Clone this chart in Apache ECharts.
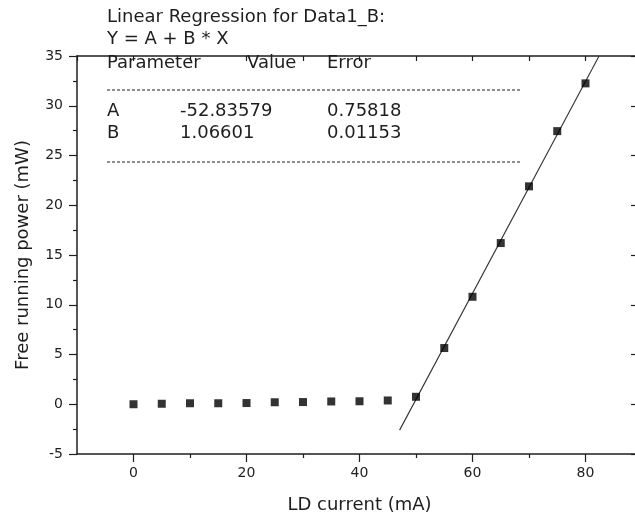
<!DOCTYPE html>
<html>
<head>
<meta charset="utf-8">
<script src="https://cdn.jsdelivr.net/npm/echarts@6/dist/echarts.min.js"></script>
<style>
  html, body { margin: 0; padding: 0; background: #fff; }
  #chart { width: 635px; height: 518px; }
</style>
</head>
<body>
<div id="chart"></div>
<script>
// ── data ──
var currents = [0, 5, 10, 15, 20, 25, 30, 35, 40, 45, 50, 55, 60, 65, 70, 75, 80];
var powers = [0.0, 0.05, 0.1, 0.1, 0.12, 0.2, 0.22, 0.28, 0.3, 0.38, 0.75, 5.65, 10.8, 16.2, 21.9, 27.45, 32.25];

// fitted line Y = A + B * X, end points as drawn
var fitLine = [[47.1, -2.6], [82.4, 35]];

// regression table
var paramNames = ["A", "B"];
var paramValues = ["-52.83579", "1.06601"];
var paramErrors = ["0.75818", "0.01153"];

var xMajorTicks = [0, 20, 40, 60, 80];
var xMinorTicks = [10, 30, 50, 70];

var FONT = "DejaVu Sans";
var INK = "#1e1e1e";

var chart = echarts.init(document.getElementById("chart"));

function txt(text, x, y, size) {
    return {
        type: "text", left: x, top: y - size * 0.6,
        style: { text: text, fill: INK, font: size + "px '" + FONT + "'" }
    };
}

var graphics = [
    txt("Linear Regression for Data1_B:", 107, 19, 18),
    txt("Y = A + B * X", 107, 41, 18),
    txt("Parameter", 107, 65, 18),
    txt("Value", 247, 65, 18),
    txt("Error", 327, 65, 18),
    { type: "line", shape: { x1: 107, y1: 90, x2: 522, y2: 90 },
      style: { stroke: INK, lineWidth: 1, lineDash: [3, 2] } },
    { type: "line", shape: { x1: 107, y1: 162, x2: 522, y2: 162 },
      style: { stroke: INK, lineWidth: 1, lineDash: [3, 2] } }
];
paramNames.forEach(function (n, i) {
    var y = 113 + i * 22;
    graphics.push(txt(n, 107, y, 18));
    graphics.push(txt(paramValues[i], 180, y, 18));
    graphics.push(txt(paramErrors[i], 327, y, 18));
});

var axisLine = { show: true, onZero: false, lineStyle: { color: INK, width: 1.5 } };
var labelStyle = { color: INK, fontFamily: FONT, fontSize: 14 };

chart.setOption({
    animation: false,
    textStyle: { fontFamily: FONT },
    grid: { left: 77, right: -7, top: 56, bottom: 64, outerBoundsMode: "none", containLabel: false },
    xAxis: [
        {
            type: "value", position: "bottom", min: -10, max: 90, interval: 10,
            axisLine: axisLine,
            axisTick: { show: true, inside: false, length: 8, customValues: xMajorTicks,
                        lineStyle: { color: INK, width: 1.2 } },
            axisLabel: Object.assign({ customValues: xMajorTicks, margin: 12 }, labelStyle),
            splitLine: { show: false },
            name: "LD current (mA)", nameLocation: "middle", nameGap: 42,
            nameTextStyle: { color: INK, fontFamily: FONT, fontSize: 18 }
        },
        {
            type: "value", position: "bottom", min: -10, max: 90, interval: 10,
            axisLine: { show: false, onZero: false },
            axisTick: { show: true, inside: false, length: 4, customValues: xMinorTicks,
                        lineStyle: { color: INK, width: 1.2 } },
            axisLabel: { show: false },
            splitLine: { show: false }
        },
        {
            type: "value", position: "top", min: -10, max: 90, interval: 10,
            axisLine: axisLine,
            axisTick: { show: true, inside: true, length: 5, lineStyle: { color: INK, width: 1.2 } },
            axisLabel: { show: false },
            splitLine: { show: false }
        }
    ],
    yAxis: [
        {
            type: "value", position: "left", min: -5, max: 35, interval: 5,
            axisLine: axisLine,
            axisTick: { show: true, inside: false, length: 8, lineStyle: { color: INK, width: 1.2 } },
            minorTick: { show: true, splitNumber: 2, length: 4, lineStyle: { color: INK, width: 1.2 } },
            axisLabel: Object.assign({ margin: 14 }, labelStyle),
            splitLine: { show: false },
            name: "Free running power (mW)", nameLocation: "middle", nameGap: 45,
            nameTextStyle: { color: INK, fontFamily: FONT, fontSize: 18 }
        },
        {
            type: "value", position: "right", min: -5, max: 35, interval: 5,
            axisLine: axisLine,
            axisTick: { show: true, inside: true, length: 11, lineStyle: { color: INK, width: 1.2 } },
            axisLabel: { show: false },
            splitLine: { show: false }
        }
    ],
    series: [
        {
            type: "line", xAxisIndex: 0, yAxisIndex: 0,
            data: fitLine, symbol: "none",
            lineStyle: { color: "#333", width: 1.1 }, z: 2
        },
        {
            type: "scatter", xAxisIndex: 0, yAxisIndex: 0,
            data: currents.map(function (c, i) { return [c, powers[i]]; }),
            symbol: "rect", symbolSize: 8,
            itemStyle: { color: "#000" }, z: 3
        }
    ],
    graphic: graphics
});
</script>
</body>
</html>
